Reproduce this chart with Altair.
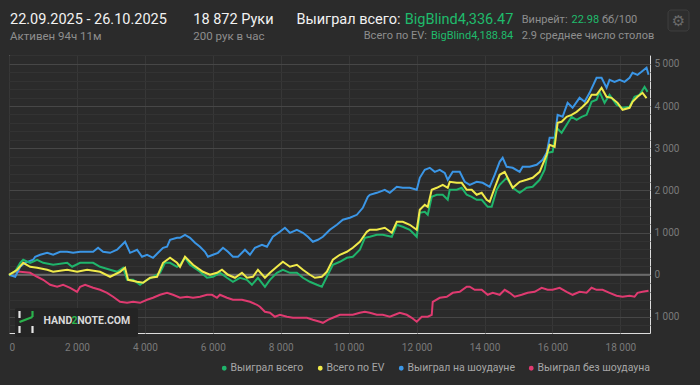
import altair as alt
import pandas as pd
import jinja2

# ---------------- data ----------------
SERIES = ["Выиграл всего", "Всего по EV", "Выиграл на шоудауне", "Выиграл без шоудауна"]
COLORS = ["#1fb46b", "#f0ea4a", "#3b96e6", "#df3a70"]

won_hands = [0, 182, 329, 418, 623, 829, 1006, 1300, 1712, 1859,
             2094, 2476, 2682, 2976, 3182, 3359, 3477, 3653, 3859, 4065,
             4241, 4447, 4594, 4741, 4947, 5035, 5182, 5329, 5623, 5829,
             6005, 6211, 6417, 6593, 6799, 7005, 7152, 7329, 7535, 7682,
             7888, 8064, 8270, 8476, 8653, 8858, 9064, 9211, 9358, 9535,
             9741, 9947, 10123, 10329, 10476, 10623, 10829, 11005, 11270, 11417,
             11593, 11799, 12005, 12094, 12241, 12329, 12446, 12594, 12770, 12917,
             12976, 13182, 13329, 13476, 13623, 13770, 13917, 14094, 14211, 14358,
             14446, 14652, 14829, 15035, 15241, 15417, 15623, 15770, 15858, 16005,
             16123, 16270, 16417, 16564, 16711, 16858, 17005, 17152, 17299, 17387,
             17534, 17681, 17887, 18064, 18270, 18417, 18564, 18711, 18799]
won_bb = [0, 78, 284, 356, 284, 356, 284, 237, 284, 190,
          284, 284, 190, 119, 71, 166, -119, -119, -237, -119,
          -47, 47, 284, 284, 190, 237, 403, 237, 71, -71,
          -47, 47, -71, -166, -71, -119, -237, -71, -284, -119,
          47, 119, 47, 47, -71, -166, -237, -284, -47, 237,
          308, 403, 427, 593, 877, 901, 948, 948, 901, 1185,
          1138, 1067, 901, 1469, 1493, 1422, 1849, 1896, 1896, 1778,
          2015, 2015, 2062, 1896, 1849, 1778, 1778, 1612, 1612, 2015,
          2133, 2299, 2062, 1943, 2062, 2086, 2252, 2489, 2891, 2915,
          3484, 3365, 3555, 3745, 3674, 3745, 3792, 4100, 4148, 4337,
          4076, 4266, 4029, 3958, 3982, 4219, 4266, 4456, 4336]

ev_hands = [0, 241, 418, 623, 829, 1124, 1300, 1712, 2006, 2300,
            2682, 2976, 3270, 3417, 3506, 3771, 3947, 4153, 4359, 4535,
            4741, 4947, 5035, 5182, 5417, 5711, 5917, 6123, 6270, 6447,
            6653, 6858, 7005, 7182, 7329, 7535, 7682, 7888, 8064, 8270,
            8476, 8653, 8858, 9006, 9211, 9358, 9535, 9741, 9947, 10123,
            10329, 10535, 10623, 10829, 11064, 11270, 11417, 11593, 11799, 12005,
            12094, 12241, 12329, 12446, 12594, 12770, 12917, 12976, 13182, 13329,
            13476, 13623, 13770, 13917, 14064, 14152, 14299, 14446, 14594, 14829,
            15035, 15241, 15417, 15623, 15829, 15917, 16064, 16152, 16270, 16417,
            16564, 16711, 16888, 17035, 17152, 17299, 17446, 17593, 17740, 17917,
            18064, 18270, 18358, 18505, 18652, 18770]
ev_bb = [0, 119, 284, 190, 166, 119, 71, 119, 71, 119,
         71, -47, 71, 166, -119, -166, -190, -71, -47, 284,
         403, 284, 190, 427, 237, 71, 0, 47, 119, 0,
         -71, 47, -71, -47, 119, -71, 47, 190, 308, 190,
         237, 119, 0, -71, -47, 71, 356, 474, 545, 640,
         782, 1019, 1067, 1067, 1114, 995, 1256, 1256, 1185, 1067,
         1541, 1659, 1612, 2015, 2062, 2133, 2062, 2204, 2180, 2180,
         2015, 2015, 1896, 1943, 1778, 1730, 2062, 2370, 2441, 2062,
         2204, 2252, 2299, 2441, 2844, 3081, 3034, 3602, 3626, 3745,
         3792, 3863, 3982, 4100, 4266, 4266, 4432, 4219, 4195, 4076,
         3911, 3958, 4100, 4219, 4313, 4189]

sd_hands = [0, 182, 329, 476, 712, 771, 918, 1124, 1300, 1506,
            1712, 1888, 2094, 2300, 2476, 2623, 2770, 2976, 3182, 3329,
            3417, 3565, 3771, 3917, 4065, 4241, 4388, 4535, 4653, 4741,
            4947, 5035, 5182, 5329, 5476, 5623, 5770, 5858, 6005, 6152,
            6300, 6447, 6593, 6741, 6947, 7094, 7241, 7447, 7594, 7770,
            7976, 8123, 8270, 8476, 8653, 8800, 8947, 9094, 9241, 9447,
            9653, 9829, 10035, 10241, 10417, 10564, 10623, 10829, 11064, 11211,
            11417, 11593, 11799, 12005, 12094, 12241, 12388, 12535, 12682, 12829,
            12917, 13064, 13270, 13417, 13564, 13770, 13946, 14152, 14299, 14446,
            14535, 14652, 14829, 15035, 15123, 15329, 15535, 15711, 15829, 15917,
            16064, 16152, 16299, 16446, 16593, 16799, 16947, 17094, 17299, 17446,
            17593, 17681, 17828, 17975, 18123, 18270, 18358, 18505, 18623, 18770, 18829]
sd_bb = [0, -47, 190, 284, 356, 427, 474, 521, 474, 545,
         545, 521, 545, 545, 545, 640, 545, 521, 593, 711,
         782, 521, 593, 427, 474, 403, 521, 640, 664, 830,
         877, 877, 948, 877, 758, 664, 545, 427, 474, 521,
         640, 545, 427, 427, 593, 474, 640, 711, 664, 901,
         1019, 1114, 995, 1067, 995, 901, 782, 830, 901, 1067,
         1185, 1304, 1351, 1422, 1588, 1849, 1896, 1943, 2015, 1943,
         2086, 2062, 2062, 2015, 2299, 2489, 2536, 2441, 2489, 2417,
         2252, 2441, 2441, 2204, 2133, 2204, 2180, 2086, 2370, 2678,
         2773, 2560, 2536, 2441, 2560, 2560, 2607, 2726, 2891, 3247,
         3247, 3792, 3745, 4076, 3958, 4195, 4100, 4313, 4669, 4669,
         4432, 4622, 4574, 4622, 4574, 4669, 4787, 4740, 4811, 4906, 4740]

nsd_hands = [0, 182, 329, 623, 829, 1006, 1212, 1418, 1594, 1800,
             2006, 2094, 2241, 2476, 2682, 2888, 3065, 3270, 3477, 3653,
             3859, 4065, 4241, 4447, 4653, 4829, 5035, 5241, 5417, 5623,
             5829, 5976, 6123, 6211, 6417, 6593, 6858, 7094, 7300, 7388,
             7535, 7682, 7829, 7976, 8182, 8358, 8564, 8770, 8947, 9152,
             9241, 9388, 9535, 9741, 9947, 10123, 10329, 10476, 10623, 10829,
             11005, 11211, 11358, 11505, 11711, 11858, 12005, 12152, 12329, 12446,
             12476, 12682, 12888, 13064, 13270, 13476, 13564, 13711, 13917, 14094,
             14241, 14446, 14594, 14741, 14888, 15094, 15270, 15476, 15682, 15858,
             16005, 16211, 16417, 16593, 16799, 17005, 17152, 17299, 17475, 17681,
             17887, 18064, 18270, 18417, 18505, 18652, 18829]
nsd_bb = [0, 71, 71, 47, -47, -119, -237, -284, -237, -308,
          -403, -284, -237, -308, -356, -427, -521, -640, -664, -640,
          -664, -593, -545, -474, -427, -474, -545, -521, -545, -521,
          -474, -474, -545, -474, -545, -593, -593, -640, -711, -758,
          -877, -901, -995, -948, -995, -1019, -1019, -1019, -1067, -1114,
          -1138, -1067, -1019, -948, -948, -948, -901, -877, -901, -948,
          -948, -995, -948, -901, -948, -1019, -1114, -995, -995, -948,
          -640, -545, -521, -427, -403, -284, -284, -356, -356, -474,
          -427, -474, -356, -427, -521, -474, -427, -403, -308, -356,
          -356, -308, -403, -474, -403, -427, -308, -356, -356, -427,
          -498, -521, -498, -521, -427, -403, -379]

x_ticks = [0, 2000, 4000, 6000, 8000, 10000, 12000, 14000, 16000, 18000]
y_grid = list(range(-1200, 5201, 200))
zero_level = [0]
hands_total = 18872

# header texts
date_range = "22.09.2025 - 26.10.2025"
active_time = "Активен 94ч 11м"
hands_label = "18 872 Руки"
hands_rate = "200 рук в час"
won_label = "Выиграл всего:"
won_value = "BigBlind4,336.47"
ev_label = "Всего по EV:"
ev_value = "BigBlind4,188.84"
wr_label = "Винрейт:"
wr_value = "22.98"
wr_unit = "бб/100"
tables_label = "2.9 среднее число столов"

# ---------------- chart ----------------
frames = []
for name, h, v in zip(SERIES, [won_hands, ev_hands, sd_hands, nsd_hands],
                      [won_bb, ev_bb, sd_bb, nsd_bb]):
    frames.append(pd.DataFrame({"hands": h, "bb": v, "series": name}))
df = pd.concat(frames, ignore_index=True)

BG = "#2b2b2b"
GREEN_TXT = "#1fbb6c"
WHITE_TXT = "#f2f2f2"
GRAY_TXT = "#8e8e8e"
FONT = "Roboto"

x_enc = alt.X(
    "hands:Q",
    scale=alt.Scale(domain=[0, hands_total], nice=False, zero=False),
    axis=alt.Axis(values=x_ticks, title=None, domain=False, ticks=False,
                  grid=True, gridColor="#373737", gridWidth=1,
                  labelColor="#7a7a7a", labelFontSize=10, labelFont=FONT,
                  labelPadding=9,
                  labelExpr="replace(format(datum.value, ','), ',', ' ')"),
)
y_enc = alt.Y(
    "bb:Q",
    scale=alt.Scale(domain=[-1380, 5210], nice=False, zero=False),
    axis=alt.Axis(orient="right", values=y_grid, title=None, domain=False, ticks=False,
                  grid=True,
                  gridColor={"condition": {"test": "datum.value % 1000 === 0", "value": "#474747"},
                             "value": "#333333"},
                  labelColor="#7a7a7a", labelFontSize=10, labelFont=FONT,
                  labelPadding=4, labelOverlap=False,
                  labelExpr="datum.value % 1000 === 0 ? replace(format(abs(datum.value), ','), ',', ' ') : ''"),
)
color_enc = alt.Color(
    "series:N",
    scale=alt.Scale(domain=SERIES, range=COLORS),
    legend=alt.Legend(orient="none", legendX=210, legendY=308, direction="horizontal",
                      title=None, symbolType="circle", symbolSize=6, symbolStrokeWidth=2.4,
                      symbolOpacity=1, labelColor="#a6a6a6", labelFontSize=10.5,
                      labelFont=FONT, labelOffset=1, columnPadding=10, padding=0,
                      gridAlign="none"),
)

base = alt.Chart(df).encode(x=x_enc, y=y_enc, color=color_enc)
draw_order = [SERIES[3], SERIES[2], SERIES[0], SERIES[1]]
line_layers = [
    base.transform_filter(alt.datum.series == s).mark_line(strokeWidth=2)
    for s in draw_order
]

zero_rule = alt.Chart(pd.DataFrame({"bb": zero_level})).mark_rule(
    color="#6a6a6a", strokeWidth=2).encode(y=y_enc)


def one_row(value):
    return pd.DataFrame({"t": [value]})


def txt(s, x, y, color, size, align="left", weight="normal", font=FONT, baseline="alphabetic"):
    return alt.Chart(one_row(s)).mark_text(
        align=align, baseline=baseline, color=color, fontSize=size,
        font=font, fontWeight=weight).encode(
        x=alt.value(x), y=alt.value(y), text="t:N")


def box(x, x2, y, y2, fill, stroke=None, radius=2):
    kw = dict(fill=fill, cornerRadius=radius)
    if stroke:
        kw.update(stroke=stroke, strokeWidth=1)
    return alt.Chart(one_row("")).mark_rect(**kw).encode(
        x=alt.value(x), x2=alt.value(x2), y=alt.value(y), y2=alt.value(y2))


def seg(x, y, x2, y2, color, w=2.2):
    return alt.Chart(one_row("")).mark_rule(color=color, strokeWidth=w).encode(
        x=alt.value(x), y=alt.value(y), x2=alt.value(x2), y2=alt.value(y2))


header = [
    txt(date_range, 1, -31, WHITE_TXT, 14.5),
    txt(active_time, 1, -15.5, GRAY_TXT, 11.5),
    txt(hands_label, 184.3, -31, WHITE_TXT, 14.5),
    txt(hands_rate, 184.3, -15.5, GRAY_TXT, 11.5),
    txt(won_label, 391.5, -31, WHITE_TXT, 14.5, align="right"),
    txt(won_value, 504.3, -31, GREEN_TXT, 14.5, align="right"),
    txt(ev_label, 418, -15.7, GRAY_TXT, 11, align="right"),
    txt(ev_value, 504.3, -15.7, GREEN_TXT, 11, align="right"),
    txt(wr_label, 512.7, -32.3, GRAY_TXT, 11),
    txt(wr_value, 562.5, -32.3, GREEN_TXT, 11),
    txt(wr_unit, 593, -32.3, GRAY_TXT, 11),
    txt(tables_label, 512.7, -15.7, GRAY_TXT, 11),
    box(659, 680, -45, -24, "#2e2e2e", stroke="#3e3e3e", radius=3),
    txt("⚙", 669.5, -34.5, "#6a6a6a", 15, align="center", font="DejaVu Sans", baseline="middle"),
]

watermark = [
    box(6, 129, 253, 282, "#242424", radius=2),
    seg(10.5, 256, 10.5, 263, "#e6e6e6"),
    seg(10.5, 271, 10.5, 278, "#e6e6e6"),
    seg(23.5, 271, 23.5, 278, "#e6e6e6"),
    seg(23.5, 256, 23.5, 262, "#2bb24c"),
    seg(10.5, 267, 23.5, 262, "#2bb24c"),
    txt("HAND", 63.3, 265.7, "#d9d9d9", 10.5, align="right", weight="bold", baseline="middle"),
    txt("2", 65.5, 265.7, "#2bb24c", 10.5, align="center", weight="bold", baseline="middle"),
    txt("NOTE.COM", 68.2, 265.7, "#d9d9d9", 10.5, align="left", weight="bold", baseline="middle"),
]

chart = alt.layer(*watermark, zero_rule, *line_layers, *header).properties(
    width=641, height=278,
    padding={"left": 1, "top": 47, "right": 42, "bottom": 44},
    autosize=alt.AutoSizeParams(type="none"),
    background=BG,
).configure_view(
    stroke="#3a3a3a", strokeWidth=1, cornerRadius=3,
).configure(font=FONT)

HTML_TEMPLATE = jinja2.Template("""<!DOCTYPE html>
<html>
<head>
<meta charset="utf-8">
<style>
html, body { background: #2b2b2b; }
#{{ output_div }}.vega-embed { width: 100%; display: flex; }
</style>
<script type="text/javascript" src="{{ base_url }}/vega@{{ vega_version }}"></script>
<script type="text/javascript" src="{{ base_url }}/vega-lite@{{ vegalite_version }}"></script>
<script type="text/javascript" src="{{ base_url }}/vega-embed@{{ vegaembed_version }}"></script>
</head>
<body>
<div id="{{ output_div }}"></div>
<script type="text/javascript">
(function() {
  var spec = {{ spec }};
  var embedOpt = {{ embed_options }};
  vegaEmbed("#{{ output_div }}", spec, embedOpt).catch(console.error);
})();
</script>
</body>
</html>
""")

chart.save("out.html", embed_options={"renderer": "svg", "actions": False}, template=HTML_TEMPLATE)
